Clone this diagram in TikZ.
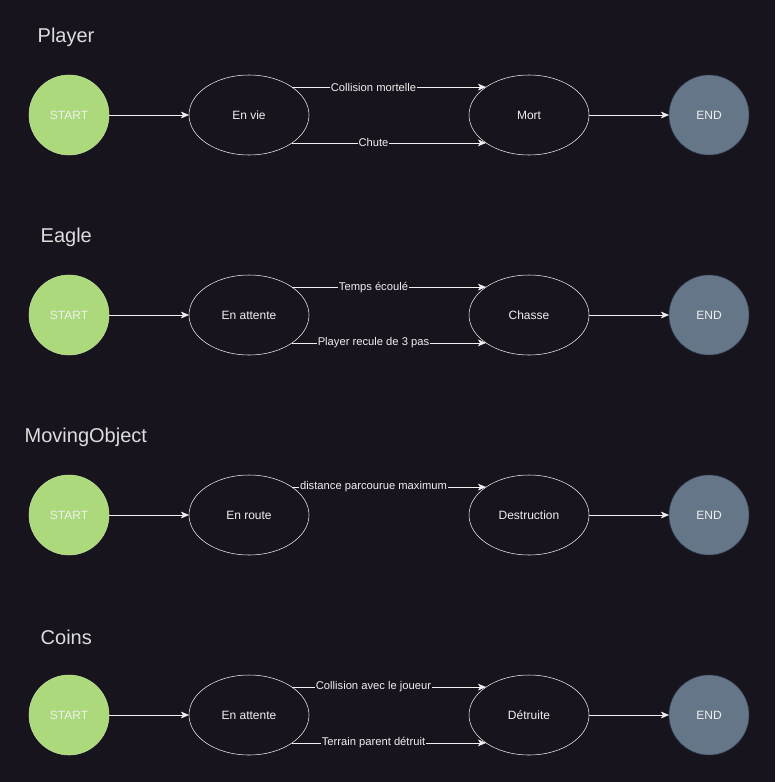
\documentclass[tikz,border=0pt]{standalone}
\usepackage{fontspec}
\setmainfont{Liberation Sans}
\usetikzlibrary{shapes.geometric,arrows.meta,positioning}

\definecolor{bgcol}{RGB}{24,20,29}
\definecolor{startgreen}{RGB}{172,217,124}
\definecolor{endgray}{RGB}{100,118,135}
\definecolor{endborder}{RGB}{49,67,84}
\definecolor{txtcol}{RGB}{240,240,240}

\begin{document}
\begin{tikzpicture}[x=0.75pt,y=-0.75pt,
    every node/.style={text=txtcol,font=\fontsize{9}{11}\selectfont},
    startnode/.style={circle,fill=startgreen,draw=startgreen!80!white,minimum size=60pt,inner sep=0pt,outer sep=0pt},
    endnode/.style={circle,fill=endgray,draw=endborder,minimum size=60pt,inner sep=0pt,outer sep=0pt},
    state/.style={ellipse,draw=txtcol,minimum width=90pt,minimum height=60pt,inner sep=0pt,outer sep=0pt},
    title/.style={anchor=west,text=txtcol!92!black,font=\fontsize{15}{18}\selectfont},
    lbl/.style={pos=0.42,fill=bgcol,inner sep=0.6pt,font=\fontsize{8.4}{10}\selectfont},
    trans/.style={draw=txtcol,-{Stealth[length=6pt,width=5pt,inset=1.5pt]}},
    node distance=60pt]

  \fill[bgcol] (0,0) rectangle (775,782);
  \useasboundingbox (0,0) rectangle (775,782);

  % Player
  \node[title] (tplayer) at (33,37) {Player};
  \node[startnode] (pstart) at (69,115) {START};
  \node[state,right=of pstart] (penvie) {En vie};
  \node[state,right=120pt of penvie] (pmort) {Mort};
  \node[endnode,right=of pmort] (pend) {END};
  \draw[trans] (pstart) -- (penvie);
  \draw[trans] (penvie.33) -- (pmort.147) node[lbl] {Collision mortelle};
  \draw[trans] (penvie.-33) -- (pmort.-147) node[lbl] {Chute};
  \draw[trans] (pmort) -- (pend);

  % Eagle
  \node[title] (teagle) at (36,237) {Eagle};
  \node[startnode] (estart) at (69,315) {START};
  \node[state,right=of estart] (eattente) {En attente};
  \node[state,right=120pt of eattente] (echasse) {Chasse};
  \node[endnode,right=of echasse] (eend) {END};
  \draw[trans] (estart) -- (eattente);
  \draw[trans] (eattente.33) -- (echasse.147) node[lbl] {Temps écoulé};
  \draw[trans] (eattente.-33) -- (echasse.-147) node[lbl] {Player recule de 3 pas};
  \draw[trans] (echasse) -- (eend);

  % MovingObject
  \node[title] (tmoving) at (20,437) {MovingObject};
  \node[startnode] (mstart) at (69,515) {START};
  \node[state,right=of mstart] (mroute) {En route};
  \node[state,right=120pt of mroute] (mdestr) {Destruction};
  \node[endnode,right=of mdestr] (mend) {END};
  \draw[trans] (mstart) -- (mroute);
  \draw[trans] (mroute.33) -- (mdestr.147) node[lbl] {distance parcourue maximum};
  \draw[trans] (mdestr) -- (mend);

  % Coins
  \node[title] (tcoins) at (36,637) {Coins};
  \node[startnode] (cstart) at (69,715) {START};
  \node[state,right=of cstart] (cattente) {En attente};
  \node[state,right=120pt of cattente] (cdetruite) {Détruite};
  \node[endnode,right=of cdetruite] (cend) {END};
  \draw[trans] (cstart) -- (cattente);
  \draw[trans] (cattente.33) -- (cdetruite.147) node[lbl] {Collision avec le joueur};
  \draw[trans] (cattente.-33) -- (cdetruite.-147) node[lbl] {Terrain parent détruit};
  \draw[trans] (cdetruite) -- (cend);
\end{tikzpicture}
\end{document}
